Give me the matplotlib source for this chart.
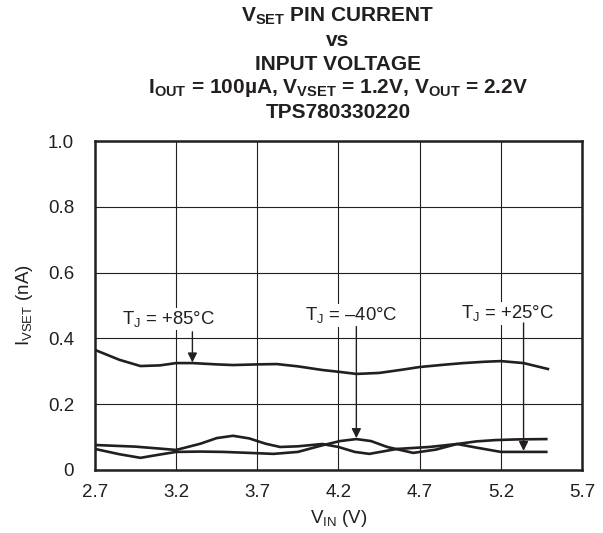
import matplotlib
matplotlib.use("Agg")
import matplotlib.pyplot as plt

# ---------------- data ----------------
vin_85 = [2.70, 2.85, 2.98, 3.10, 3.20, 3.30, 3.45, 3.55, 3.70, 3.82, 3.95, 4.10, 4.21, 4.31, 4.45, 4.58, 4.70, 4.85, 4.97, 5.10, 5.20, 5.34, 5.49]
isvet_85 = [0.365, 0.335, 0.316, 0.318, 0.325, 0.325, 0.321, 0.319, 0.321, 0.322, 0.315, 0.304, 0.298, 0.292, 0.295, 0.304, 0.313, 0.320, 0.325, 0.329, 0.331, 0.325, 0.307]

vin_m40 = [2.70, 2.85, 2.98, 3.10, 3.20, 3.35, 3.49, 3.65, 3.80, 3.95, 4.10, 4.21, 4.31, 4.40, 4.50, 4.66, 4.80, 4.93, 5.05, 5.17, 5.30, 5.48]
isvet_m40 = [0.064, 0.048, 0.037, 0.047, 0.055, 0.056, 0.055, 0.052, 0.049, 0.055, 0.075, 0.088, 0.094, 0.088, 0.070, 0.052, 0.062, 0.079, 0.087, 0.091, 0.093, 0.094]

vin_25 = [2.70, 2.95, 3.10, 3.20, 3.35, 3.45, 3.55, 3.65, 3.75, 3.84, 3.95, 4.10, 4.20, 4.30, 4.39, 4.56, 4.76, 4.93, 5.05, 5.20, 5.34, 5.48]
isvet_25 = [0.076, 0.071, 0.065, 0.061, 0.080, 0.097, 0.104, 0.096, 0.080, 0.070, 0.072, 0.079, 0.070, 0.055, 0.049, 0.064, 0.070, 0.079, 0.068, 0.055, 0.055, 0.055]

x_ticks = [2.7, 3.2, 3.7, 4.2, 4.7, 5.2, 5.7]
x_tick_labels = ["2.7", "3.2", "3.7", "4.2", "4.7", "5.2", "5.7"]
y_ticks = [0, 0.2, 0.4, 0.6, 0.8, 1.0]
y_tick_labels = ["0", "0.2", "0.4", "0.6", "0.8", "1.0"]

# label text position, arrow start, arrow tip (data coords)
labels = [
    (r"T$_\mathrm{J}$ = +85°C", (3.15, 0.459), (3.30, 0.420), (3.30, 0.327)),
    (r"T$_\mathrm{J}$ = –40°C", (4.28, 0.471), (4.31, 0.436), (4.31, 0.097)),
    (r"T$_\mathrm{J}$ = +25°C", (5.24, 0.477), (5.34, 0.447), (5.34, 0.058)),
]

title_lines = [
    r"V$_\mathbf{SET}$ PIN CURRENT",
    "vs",
    "INPUT VOLTAGE",
    r"I$_\mathbf{OUT}$ = 100µA, V$_\mathbf{VSET}$ = 1.2V, V$_\mathbf{OUT}$ = 2.2V",
    "TPS780330220",
]

# ---------------- style ----------------
plt.rcParams["font.family"] = ["Liberation Sans", "DejaVu Sans"]
plt.rcParams["mathtext.fontset"] = "custom"
plt.rcParams["mathtext.rm"] = "Liberation Sans"
plt.rcParams["mathtext.bf"] = "Liberation Sans:bold"

fig = plt.figure(figsize=(6.03, 5.33), dpi=100)
ax = fig.add_axes([95 / 603, 63 / 533, 487 / 603, 329 / 533])

for xs, ys in [(vin_85, isvet_85), (vin_m40, isvet_m40), (vin_25, isvet_25)]:
    ax.plot(xs, ys, color="#231f20", lw=1.9, solid_joinstyle="round", zorder=3)

ax.set_xlim(2.7, 5.7)
ax.set_ylim(0, 1.0)
ax.set_xticks(x_ticks)
ax.set_xticklabels(x_tick_labels)
ax.set_yticks(y_ticks)
ax.set_yticklabels(y_tick_labels)
ax.tick_params(axis="y", length=0, labelsize=13.5, pad=15, colors="#231f20")
ax.tick_params(axis="x", length=0, labelsize=13.5, pad=10, colors="#231f20")
ax.grid(True, color="#231f20", lw=0.8)
for sp in ax.spines.values():
    sp.set_linewidth(1.8)
    sp.set_color("#231f20")

ax.set_xlabel(r"V$_\mathrm{IN}$ (V)", fontsize=13.5, labelpad=5, color="#231f20")
ax.set_ylabel(r"I$_\mathrm{VSET}$ (nA)", fontsize=13.5, labelpad=9, color="#231f20")

for text, txy, start, tip in labels:
    ax.text(txy[0], txy[1], text, ha="center", va="center", fontsize=13.3,
            color="#231f20", zorder=4,
            bbox=dict(facecolor="white", edgecolor="none", pad=1))
    ax.annotate("", xy=tip, xytext=start,
                arrowprops=dict(arrowstyle="-|>", color="#231f20", lw=1.0,
                                mutation_scale=14, shrinkA=0, shrinkB=0),
                zorder=4)

# title block
title_y = [16, 41, 65, 88, 112]
for line, ypx in zip(title_lines, title_y):
    fig.text(338 / 603, 1 - ypx / 533, line, ha="center", va="center",
             fontsize=15, fontweight="bold", color="#231f20")

fig.savefig("out.png", dpi=100)
